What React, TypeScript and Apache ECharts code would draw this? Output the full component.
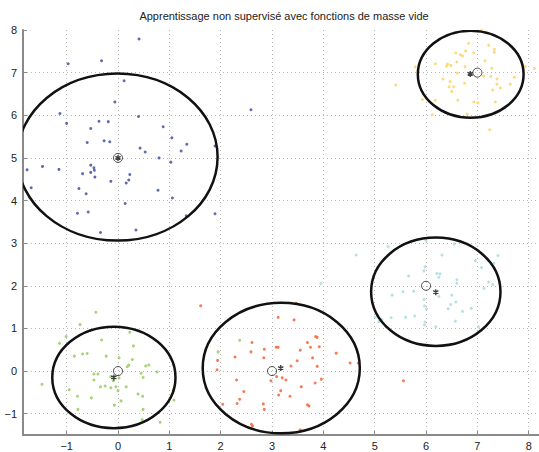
import React, { useEffect, useRef } from "react";
import * as echarts from "echarts";

const titleText = "Apprentissage non supervisé avec fonctions de masse vide";

const bluePoints: number[][] = [
  [0.41, 7.79], [-0.97, 7.21], [-0.32, 7.28], [0.12, 6.81], [-0.06, 6.31], [-1.13, 6.04],
  [0.4, 5.97], [-1.0, 5.81], [-0.37, 5.86], [-0.19, 5.85], [-0.53, 5.69], [0.88, 5.73],
  [1.05, 5.47], [-0.6, 5.36], [-0.27, 5.4], [-0.16, 5.38], [1.34, 5.32], [0.43, 5.23],
  [0.53, 5.14], [1.23, 5.16], [1.89, 5.28], [0.8, 5.0], [1.03, 4.9], [-1.77, 4.72],
  [-1.47, 4.8], [-1.15, 4.73], [-0.53, 4.83], [-0.47, 4.77], [-0.46, 4.71], [-0.53, 4.66],
  [-0.69, 4.63], [-0.45, 4.55], [0.23, 4.61], [0.21, 4.48], [0.16, 4.41], [-0.14, 4.45],
  [-1.69, 4.3], [-0.76, 4.28], [-0.62, 4.16], [0.78, 4.24], [1.06, 4.06], [0.14, 3.93],
  [-0.79, 3.7], [-0.58, 3.73], [1.33, 3.64], [1.89, 3.69], [0.35, 3.31], [-0.34, 3.25],
  [2.59, 6.13],
];

const yellowPoints: number[][] = [
  [7.08, 7.99], [6.83, 7.69], [7.22, 7.64], [7.33, 7.55], [7.33, 7.48], [6.77, 7.51],
  [6.58, 7.46], [6.67, 7.42], [6.71, 7.39], [6.93, 7.46], [7.15, 7.28], [6.6, 7.25],
  [6.42, 7.2], [6.4, 7.15], [6.48, 7.17], [6.18, 7.21], [5.79, 7.13], [6.76, 7.14],
  [7.28, 7.1], [7.93, 7.14], [8.11, 7.1], [6.61, 6.99], [7.12, 6.92], [7.26, 6.91],
  [7.72, 6.89], [7.38, 6.85], [6.33, 6.85], [5.41, 6.71], [6.47, 6.79], [6.75, 6.75],
  [7.38, 6.73], [7.64, 6.73], [6.45, 6.67], [6.54, 6.67], [7.45, 6.64], [6.5, 6.56],
  [7.3, 6.59], [5.93, 6.37], [6.18, 6.35], [6.62, 6.35], [6.93, 6.31], [7.01, 6.29],
  [7.35, 6.31], [6.12, 6.01], [6.8, 6.03], [7.24, 5.66],
];

const cyanPoints: number[][] = [
  [4.64, 2.72], [5.26, 2.92], [6.0, 3.06], [6.55, 2.98], [7.4, 2.71], [6.31, 2.72],
  [6.96, 2.59], [7.32, 2.53], [5.98, 2.45], [5.96, 2.35], [6.21, 2.29], [6.27, 2.28],
  [6.25, 2.2], [5.66, 2.23], [7.08, 2.43], [6.6, 2.14], [6.6, 2.06], [7.22, 2.09],
  [7.3, 2.03], [7.13, 1.94], [3.95, 2.05], [5.55, 1.86], [5.76, 1.87], [5.34, 1.78],
  [6.25, 1.75], [6.5, 1.78], [5.96, 1.68], [6.48, 1.56], [6.58, 1.62], [5.97, 1.53],
  [6.01, 1.46], [6.43, 1.46], [6.88, 1.47], [6.71, 1.4], [5.78, 1.29], [5.6, 1.26],
  [5.32, 1.25], [5.01, 1.26], [5.14, 1.21], [5.08, 1.16], [6.57, 1.17], [5.98, 1.15],
  [5.97, 1.08], [6.19, 1.04], [7.02, 1.04],
];

const orangePoints: number[][] = [
  [1.61, 1.53], [3.47, 1.59], [3.12, 1.26], [3.43, 1.2], [3.85, 0.81], [3.88, 0.79],
  [2.61, 0.67], [3.69, 0.67], [3.08, 0.56], [3.12, 0.56], [3.75, 0.56], [3.92, 0.57],
  [2.85, 0.51], [3.55, 0.49], [2.59, 0.45], [4.25, 0.42], [2.28, 0.33], [2.84, 0.31],
  [3.79, 0.31], [1.94, 0.25], [3.49, 0.24], [4.52, 0.19], [4.68, 0.19], [3.37, 0.12],
  [3.88, 0.11], [1.93, 0.03], [3.09, -0.13], [3.2, -0.16], [3.27, -0.21], [2.98, -0.23],
  [2.31, -0.21], [3.96, -0.19], [3.84, -0.28], [3.57, -0.37], [3.17, -0.46], [2.45, -0.48],
  [3.13, -0.56], [3.35, -0.59], [2.37, -0.66], [2.04, -0.78], [2.32, -0.76], [2.83, -0.77],
  [3.69, -0.79], [3.72, -0.82], [2.85, -0.9], [2.6, -1.25], [2.62, -1.29], [3.55, -1.38],
  [5.56, -0.23],
];

const greenPoints: number[][] = [
  [-0.43, 1.38], [-0.74, 1.09], [-1.01, 0.81], [-1.14, 0.65], [-0.32, 0.73], [0.23, 0.91],
  [0.3, 0.59], [-0.85, 0.35], [-0.69, 0.4], [-0.6, 0.41], [-0.23, 0.35], [0.02, 0.31],
  [0.28, 0.27], [0.21, 0.14], [0.18, 0.1], [0.54, 0.12], [0.6, 0.14], [0.76, -0.02],
  [0.45, -0.05], [0.49, -0.15], [-0.47, -0.07], [-0.39, -0.07], [-0.47, -0.21], [-0.14, -0.13],
  [0.02, -0.16], [-0.09, -0.23], [-1.48, -0.31], [-0.25, -0.35], [-0.34, -0.37], [-0.14, -0.39],
  [-0.04, -0.37], [0.0, -0.46], [0.16, -0.37], [-0.95, -0.44], [0.39, -0.54], [0.48, -0.59],
  [1.08, -0.46], [-0.79, -0.59], [0.06, -0.7], [-0.52, -0.63], [1.09, -0.68], [-0.07, -0.8],
  [-0.78, -0.9], [0.49, -0.9], [0.47, -1.14], [0.55, -1.16], [0.82, -1.2],
  [2.37, 0.72], [1.95, 0.45],
];

// initial centres (open circles)
const initialCenters: number[][] = [[0, 5], [7, 7], [6, 2], [3, 0], [0, 0]];
// estimated centres (asterisks)
const estimatedCenters: number[][] = [[0, 5], [6.86, 6.97], [6.19, 1.85], [3.17, 0.07], [-0.08, -0.15]];
// ellipses: [cx, cy, rx, ry]
const ellipses: number[][] = [
  [-0.01, 5.02, 1.95, 1.96],
  [6.87, 6.96, 1.03, 1.02],
  [6.19, 1.86, 1.26, 1.27],
  [3.18, 0.07, 1.53, 1.53],
  [-0.08, -0.15, 1.2, 1.19],
];

const xTicks = [-1, 0, 1, 2, 3, 4, 5, 6, 7, 8];
const yTicks = [-1, 0, 1, 2, 3, 4, 5, 6, 7, 8];

const FONT = "Liberation Sans, Arial, Helvetica, sans-serif";
const AX = "#8a8a8a";

export default function App() {
  const ref = useRef<HTMLDivElement>(null);
  useEffect(() => {
    document.body.style.margin = "0";
    const chart = echarts.init(ref.current!, null, { renderer: "svg" });
    const axisCommon = {
      type: "value" as const,
      minInterval: 1,
      maxInterval: 1,
      splitNumber: 10,
      axisLine: { show: true, onZero: false, lineStyle: { color: AX, width: 2 } },
      axisTick: { show: true, inside: true, length: 4, lineStyle: { color: AX, width: 1 } },
      splitLine: {
        show: true,
        showMinLine: false,
        showMaxLine: false,
        lineStyle: { color: "#b8b8b8", type: [1, 3], width: 1 },
      },
    };
    const scatter = (data: number[][], color: string) => ({
      type: "scatter",
      data,
      symbol: "circle",
      symbolSize: 3,
      itemStyle: { color },
      silent: true,
    });
    chart.setOption({
      animation: false,
      backgroundColor: "#ffffff",
      title: {
        text: titleText,
        left: 279,
        textAlign: "center",
        top: 5,
        textStyle: { fontSize: 11, fontWeight: "normal", color: "#222", fontFamily: FONT },
      },
      grid: { left: 23, right: 0, top: 30, bottom: 17, containLabel: false },
      xAxis: {
        ...axisCommon,
        min: -1.85,
        max: 8.2,
        axisLabel: {
          fontSize: 11,
          color: "#222",
          fontFamily: FONT,
          margin: 5,
          showMinLabel: false,
          showMaxLabel: false,
          formatter: (v: number) => (xTicks.includes(Math.round(v * 100) / 100) ? String(v).replace("-", "\u2212") : ""),
        },
      },
      yAxis: {
        ...axisCommon,
        min: -1.5,
        max: 8,
        axisLabel: {
          fontSize: 11,
          color: "#222",
          fontFamily: FONT,
          margin: 6,
          showMinLabel: false,
          formatter: (v: number) => (yTicks.includes(Math.round(v * 100) / 100) ? String(v).replace("-", "\u2212") : ""),
        },
      },
      series: [
        scatter(bluePoints, "#38479c"),
        scatter(yellowPoints, "#fcd15a"),
        scatter(cyanPoints, "#a6d8dc"),
        scatter(orangePoints, "#ef5e2c"),
        scatter(greenPoints, "#90c856"),
        {
          type: "custom",
          data: ellipses,
          encode: { x: 0, y: 1 },
          clip: true,
          silent: true,
          renderItem: (params: any, api: any) => {
            const c = api.coord([api.value(0), api.value(1)]);
            const s = api.size([api.value(2), api.value(3)]);
            return {
              type: "ellipse",
              shape: { cx: c[0], cy: c[1], rx: s[0], ry: s[1] },
              style: { fill: "none", stroke: "#111", lineWidth: 2.5 },
            };
          },
          z: 5,
        },
        {
          type: "scatter",
          data: initialCenters,
          symbol: "circle",
          symbolSize: 9,
          itemStyle: { color: "rgba(255,255,255,0)", borderColor: "#222", borderWidth: 1 },
          silent: true,
          z: 6,
        },
        {
          type: "scatter",
          data: estimatedCenters,
          symbol: "path://M5,0L5,10M0.7,2.5L9.3,7.5M0.7,7.5L9.3,2.5",
          symbolSize: 6,
          symbolKeepAspect: true,
          itemStyle: { color: "none", borderColor: "#111", borderWidth: 1.4 },
          silent: true,
          z: 7,
        },
      ],
    });
    return () => chart.dispose();
  }, []);
  return <div ref={ref} style={{ width: 539, height: 452 }} />;
}
